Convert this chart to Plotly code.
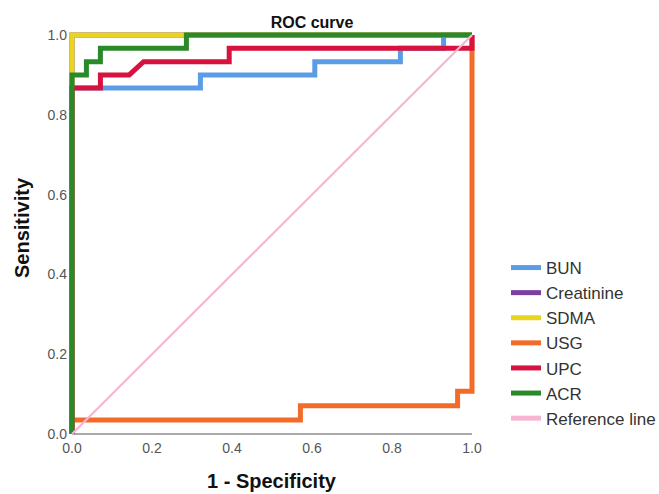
import plotly.graph_objects as go

# ---- data ----
bun_fpr = [0, 0, 0.321, 0.321, 0.607, 0.607, 0.821, 0.821, 0.929, 0.929, 1.0]
bun_tpr = [0, 0.867, 0.867, 0.9, 0.9, 0.933, 0.933, 0.967, 0.967, 1.0, 1.0]

creat_fpr = [0, 0, 1.0]
creat_tpr = [0, 1.0, 1.0]

sdma_fpr = [0, 0, 1.0]
sdma_tpr = [0, 1.0, 1.0]

usg_fpr = [0, 0, 0.571, 0.571, 0.964, 0.964, 1.0, 1.0]
usg_tpr = [0, 0.035, 0.035, 0.071, 0.071, 0.107, 0.107, 1.0]

upc_fpr = [0, 0, 0.071, 0.071, 0.143, 0.179, 0.393, 0.393, 1.0, 1.0]
upc_tpr = [0, 0.867, 0.867, 0.9, 0.9, 0.933, 0.933, 0.967, 0.967, 1.0]

acr_fpr = [0, 0, 0.036, 0.036, 0.071, 0.071, 0.286, 0.286, 1.0]
acr_tpr = [0, 0.9, 0.9, 0.933, 0.933, 0.967, 0.967, 1.0, 1.0]

ref_fpr = [0, 1.0]
ref_tpr = [0, 1.0]

tick_vals = [0, 0.2, 0.4, 0.6, 0.8, 1.0]

series = [
    ("BUN", bun_fpr, bun_tpr, "#5A9DE6", 5),
    ("Creatinine", creat_fpr, creat_tpr, "#7B3FA0", 5),
    ("SDMA", sdma_fpr, sdma_tpr, "#E9D51E", 5),
    ("USG", usg_fpr, usg_tpr, "#F26B29", 5),
    ("UPC", upc_fpr, upc_tpr, "#D8123F", 5),
    ("ACR", acr_fpr, acr_tpr, "#2A8A2A", 5),
    ("Reference line", ref_fpr, ref_tpr, "#F8B5D3", 2.2),
]

FONT = "Arial, Liberation Sans, sans-serif"

fig = go.Figure()
for name, xs, ys, col, w in series:
    fig.add_trace(go.Scatter(x=xs, y=ys, mode="lines", name=name,
                             line=dict(color=col, width=w)))

W, H = 659, 494
L, R, T, B = 68, 659 - 476, 31, 494 - 438

fig.update_layout(
    width=W, height=H,
    margin=dict(l=L, r=R, t=T, b=B),
    paper_bgcolor="white", plot_bgcolor="white",
    font=dict(family=FONT, color="#333333"),
    title=dict(text="<b>ROC curve</b>", x=312 / W, xref="container", xanchor="center",
               y=1 - 22 / H, yref="container", yanchor="middle",
               font=dict(size=16, color="#111111", family=FONT)),
    showlegend=True,
    legend=dict(xref="container", yref="container", x=506 / W, xanchor="left",
                y=1 - 250 / H, yanchor="top", font=dict(size=17, color="#333333", family=FONT),
                bgcolor="rgba(0,0,0,0)", borderwidth=0, itemsizing="constant"),
)

fig.update_xaxes(range=[-0.01, 1.01], tickvals=tick_vals, tickformat=".1f",
                 showgrid=False, zeroline=False, showline=False, ticks="",
                 tickfont=dict(size=14, color="#555555", family=FONT))
fig.update_yaxes(range=[-0.01, 1.01], tickvals=tick_vals, tickformat=".1f",
                 showgrid=False, zeroline=False, showline=False, ticks="",
                 tickfont=dict(size=14, color="#555555", family=FONT))

# axis lines
fig.add_shape(type="line", xref="x", yref="y", x0=0, x1=1, y0=0, y1=0,
              line=dict(color="#8c8c8c", width=1.5), layer="below")
fig.add_shape(type="line", xref="x", yref="y", x0=0, x1=0, y0=0, y1=1,
              line=dict(color="#8c8c8c", width=1.5), layer="below")

# axis titles
fig.add_annotation(text="<b>1 - Specificity</b>", xref="paper", yref="paper",
                   x=0.5, y=(438 - 481) / 407, xanchor="center", yanchor="middle",
                   showarrow=False, font=dict(size=20, color="#111111", family=FONT))
fig.add_annotation(text="<b>Sensitivity</b>", xref="paper", yref="paper",
                   x=(22 - 68) / 408, y=(438 - 228) / 407, xanchor="center", yanchor="middle",
                   textangle=-90, showarrow=False,
                   font=dict(size=20, color="#111111", family=FONT))

fig.write_html("out.html")
